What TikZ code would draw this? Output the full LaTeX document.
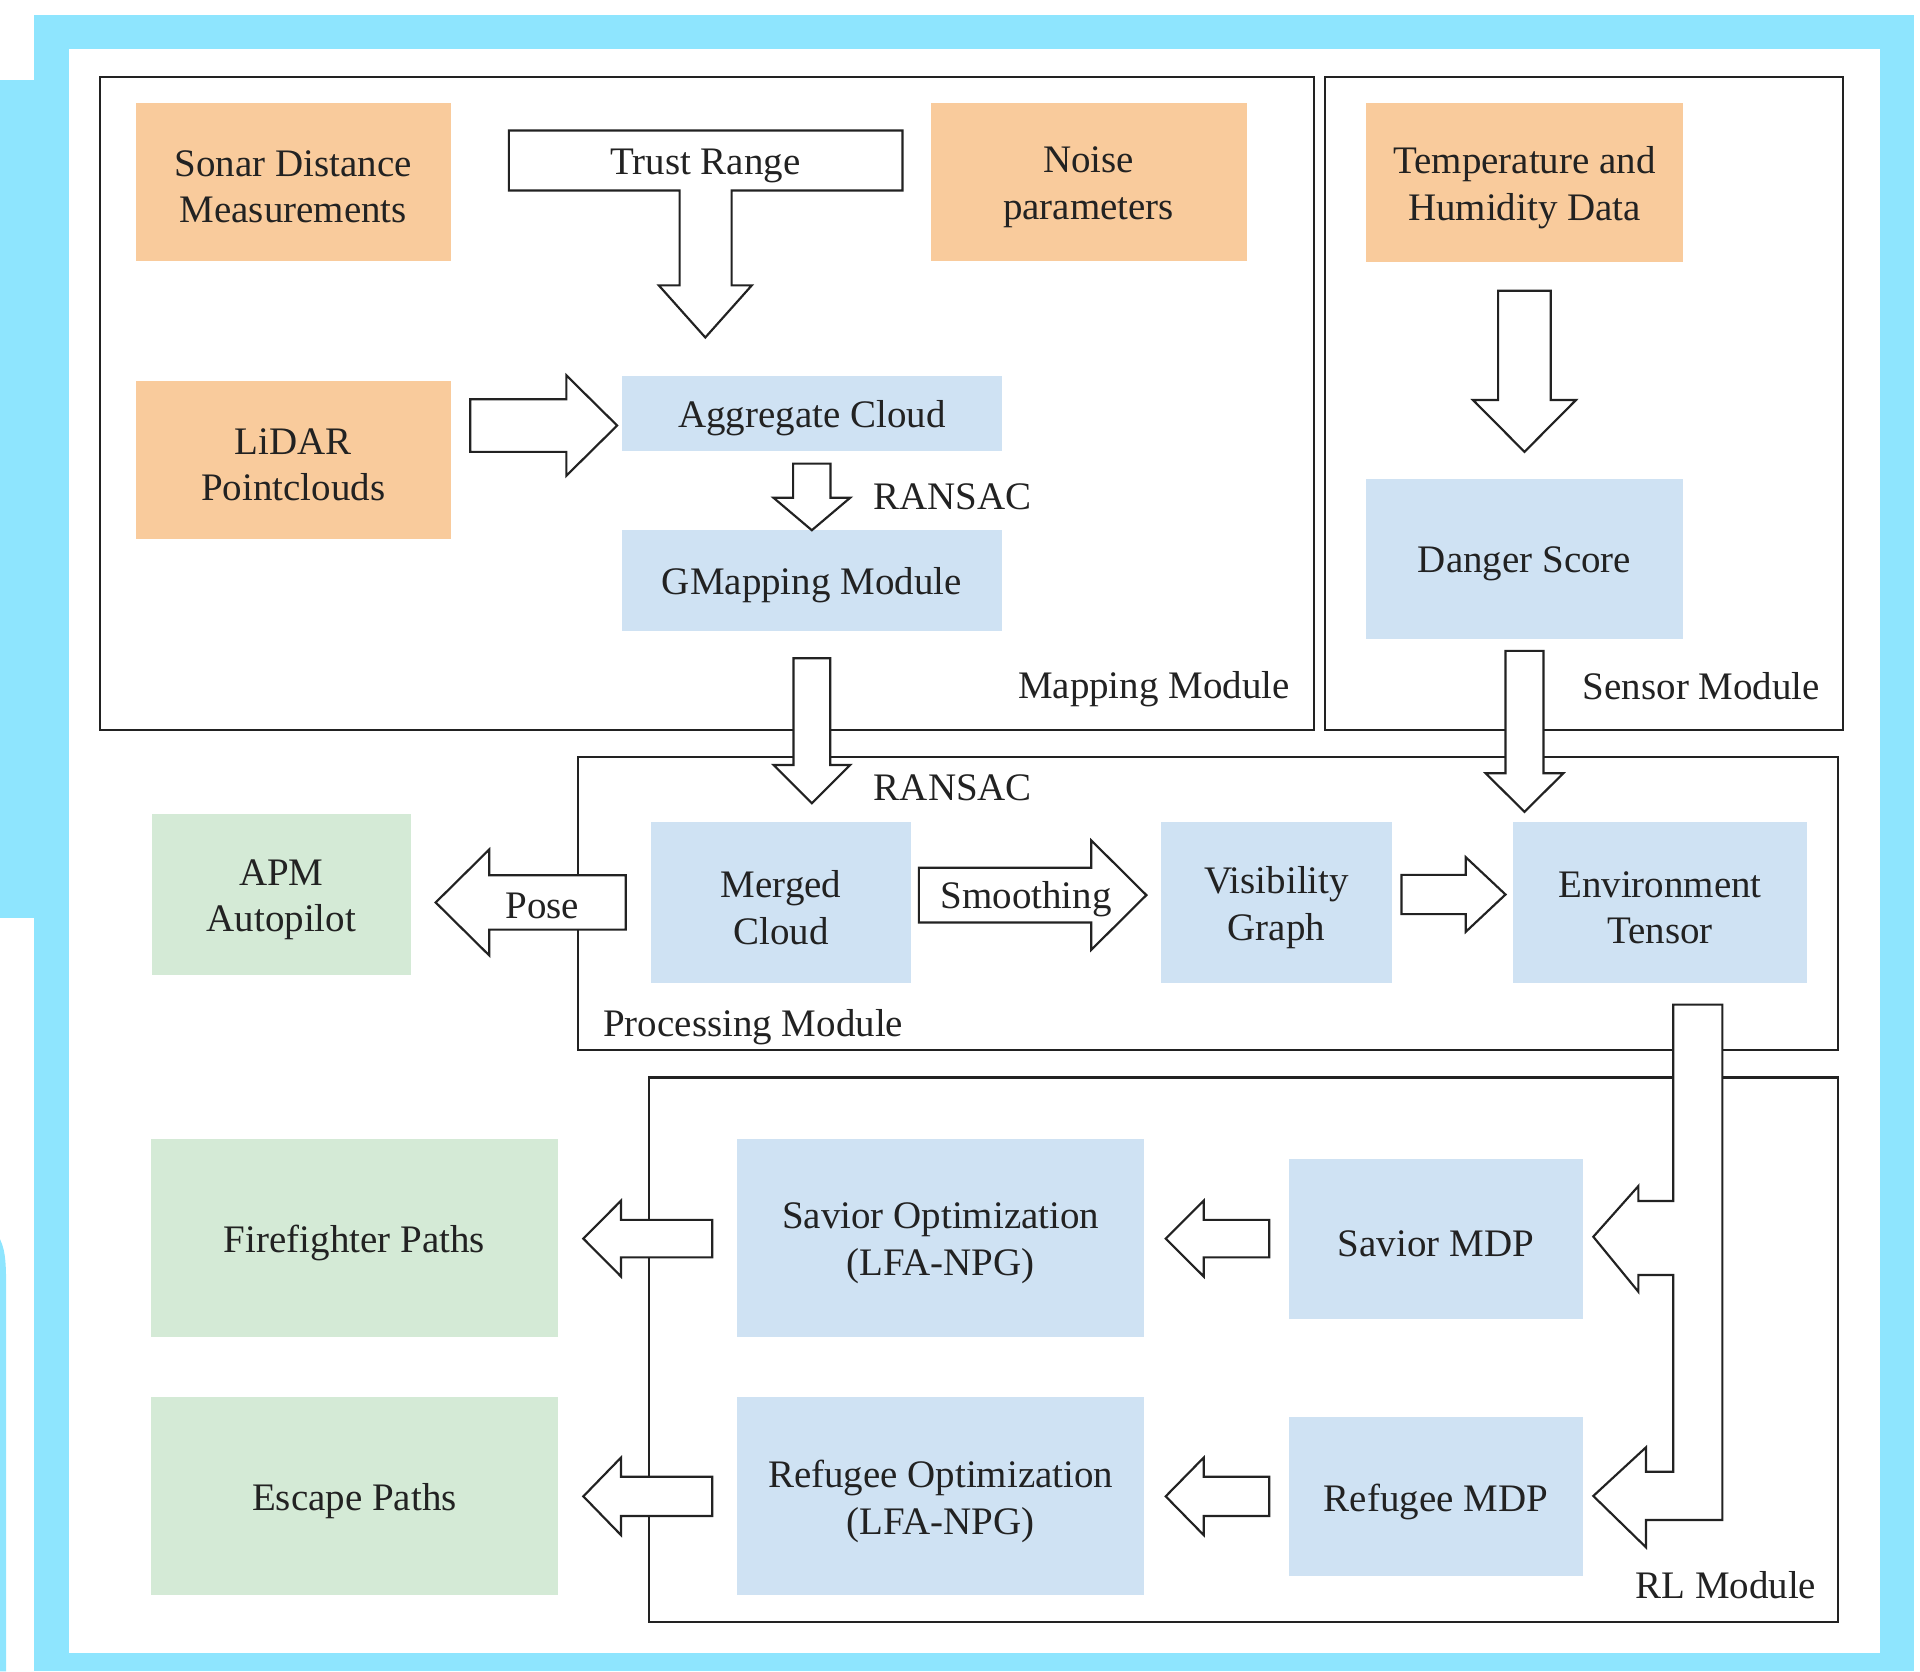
\documentclass[tikz,border=0pt]{standalone}
\usepackage{fontspec}
\setmainfont{Liberation Serif}
\usepackage{xcolor}
\usepackage{tikz}

\definecolor{framecyan}{HTML}{8EE5FE}
\definecolor{boxorange}{HTML}{F9CB9C}
\definecolor{boxblue}{HTML}{CFE2F3}
\definecolor{boxgreen}{HTML}{D4EAD6}
\definecolor{txt}{HTML}{222222}
\definecolor{frameline}{HTML}{222222}

\newcommand{\diagfont}{\fontsize{9.05}{10.8}\selectfont}
% horizontal block arrow: tail x, head base x, tip x, centre y, half shaft, half head
\newcommand{\harrow}[6]{%
  \draw[blockarrow] (#1,#4-#5) -- (#2,#4-#5) -- (#2,#4-#6) -- (#3,#4)
    -- (#2,#4+#6) -- (#2,#4+#5) -- (#1,#4+#5) -- cycle;}
% vertical block arrow: centre x, tail y, head base y, tip y, half shaft, half head
\newcommand{\varrow}[6]{%
  \draw[blockarrow] (#1-#5,#2) -- (#1-#5,#3) -- (#1-#6,#3) -- (#1,#4)
    -- (#1+#6,#3) -- (#1+#5,#3) -- (#1+#5,#2) -- cycle;}

\tikzset{
  boxtext/.style={font=\diagfont, text=txt, align=center, inner sep=0pt, yshift=-1.2pt},
  boxsize/.style 2 args={minimum width=#1, minimum height=#2},
  obox/.style={inner sep=0pt, fill=boxorange},
  bbox/.style={inner sep=0pt, fill=boxblue},
  gbox/.style={inner sep=0pt, fill=boxgreen},
  module/.style={draw=frameline, line width=0.5pt},
  modlabel/.style={font=\diagfont, text=txt, inner sep=0pt},
  blockarrow/.style={draw=frameline, fill=white, line width=0.5pt, line join=miter},
}

\begin{document}
\begin{tikzpicture}[x=0.01cm, y=-0.01cm]
    \useasboundingbox (0,0) rectangle (1568,1365);

    % Cyan frame round the page
    \fill[framecyan] (28,12) rectangle (1563,1365);
    \fill[white] (56,40) rectangle (1535,1350);
    \fill[framecyan] (0,65) rectangle (28,750);
    \fill[framecyan] (0,1012) .. controls (5,1022) and (5,1035) .. (5,1055) -- (5,1365) -- (0,1365) -- cycle;

    % Module frames
    \draw[module] (82,63) rectangle (1073,596);
    \draw[module] (1082,63) rectangle (1505,596);
    \draw[module] (472.3,618) rectangle (1501.3,857.3);
    \draw[module] (530.3,880) rectangle (1501.3,1324.4);
    \node[modlabel, anchor=east] (maplbl) at (1054,563) {Mapping Module};
    \node[modlabel, anchor=east] (senslbl) at (1487,560.5) {Sensor Module};
    \node[modlabel, anchor=west] (proclbl) at (492,839) {Processing Module};
    \node[modlabel, anchor=east] (rllbl) at (1484,1294.5) {RL Module};

    % Inputs
    \node[obox, boxsize={2.57cm}{1.29cm}, label={[boxtext]center:{Sonar Distance\\Measurements}}] (sonar) at (239.5,148.5) {};
    \node[obox, boxsize={2.58cm}{1.29cm}, label={[boxtext]center:{Noise\\parameters}}] (noise) at (889,148.5) {};
    \node[obox, boxsize={2.57cm}{1.29cm}, label={[boxtext]center:{LiDAR\\Pointclouds}}] (lidar) at (239.5,375.5) {};
    \node[obox, boxsize={2.58cm}{1.30cm}, label={[boxtext]center:{Temperature and\\Humidity Data}}] (temp) at (1245,149) {};

    % Mapping and sensor stages
    \node[bbox, boxsize={3.10cm}{0.61cm}, label={[boxtext]center:Aggregate Cloud}] (agg) at (663,337.5) {};
    \node[bbox, boxsize={3.10cm}{0.82cm}, label={[boxtext]center:GMapping Module}] (gmap) at (663,474) {};
    \node[bbox, boxsize={2.59cm}{1.31cm}, label={[boxtext]center:Danger Score}] (danger) at (1245,456.5) {};

    % Processing stages
    \node[bbox, boxsize={2.12cm}{1.31cm}, label={[boxtext]center:{Merged\\Cloud}}] (merged) at (638,737) {};
    \node[bbox, boxsize={1.89cm}{1.31cm}, label={[boxtext]center:{Visibility\\Graph}}] (visgraph) at (1042.5,737) {};
    \node[bbox, boxsize={2.40cm}{1.31cm}, label={[boxtext]center:{Environment\\Tensor}}] (envtensor) at (1355.7,737) {};
    \node[gbox, boxsize={2.12cm}{1.31cm}, label={[boxtext]center:{APM\\Autopilot}}] (apm) at (229.8,730.5) {};

    % RL stages
    \node[bbox, boxsize={3.32cm}{1.61cm}, label={[boxtext]center:{Savior Optimization\\(LFA-NPG)}}] (savopt) at (768.2,1011) {};
    \node[bbox, boxsize={3.32cm}{1.62cm}, label={[boxtext]center:{Refugee Optimization\\(LFA-NPG)}}] (refopt) at (768.2,1221.8) {};
    \node[bbox, boxsize={2.40cm}{1.31cm}, label={[boxtext]center:Savior MDP}] (savmdp) at (1172.7,1011.7) {};
    \node[bbox, boxsize={2.40cm}{1.30cm}, label={[boxtext]center:Refugee MDP}] (refmdp) at (1172.7,1222) {};
    \node[gbox, boxsize={3.32cm}{1.62cm}, label={[boxtext]center:Firefighter Paths}] (fire) at (289.4,1011.2) {};
    \node[gbox, boxsize={3.32cm}{1.62cm}, label={[boxtext]center:Escape Paths}] (escape) at (289.4,1221.6) {};

    % Trust range feeding the aggregate cloud
    \draw[blockarrow] (415.6,106.5) -- (737,106.5) -- (737,155.5) -- (597.5,155.5) -- (597.5,233)
        -- (614,233) -- (576,275.6) -- (538,233) -- (555,233) -- (555,155.5) -- (415.6,155.5) -- cycle;
    \node[modlabel] (trust) at (576,135.5) {Trust Range};

    % Block arrows
    \harrow{384}{462.5}{504}{347.5}{21.5}{41}
    \varrow{663}{378.6}{406.5}{433}{15.3}{31.3}
    \node[modlabel, anchor=west] (ransacA) at (712.5,406) {RANSAC};
    \varrow{1245}{237.4}{326.7}{369}{21.5}{42}
    \varrow{663}{537.6}{624.7}{656}{15}{31.3}
    \node[modlabel, anchor=west] (ransacB) at (713,643.5) {RANSAC};
    \varrow{1245}{531.5}{631.5}{663}{15.5}{31.7}

    \harrow{511}{399.6}{355.8}{737}{22.2}{43.3}
    \node[modlabel] (pose) at (443,739.5) {Pose};
    \harrow{750.4}{891.2}{936.2}{731}{22.3}{44.7}
    \node[modlabel] (smooth) at (838,734.5) {Smoothing};
    \harrow{1144.6}{1197}{1229.5}{730.5}{16}{30.5}

    \harrow{581.7}{507.1}{476.4}{1011.5}{15.3}{30.9}
    \harrow{581.7}{507.1}{476.4}{1222}{16}{31.6}
    \harrow{1036.6}{983}{952}{1011.5}{15.3}{30.9}
    \harrow{1036.6}{983}{952}{1222}{16}{31.6}

    % Environment tensor split to both MDPs
    \draw[blockarrow] (1366.5,820.4) -- (1406.6,820.4) -- (1406.6,1241.3) -- (1344.2,1241.3)
        -- (1344.2,1263.6) -- (1301.2,1221.7) -- (1344.2,1182) -- (1344.2,1201.9) -- (1366.5,1201.9)
        -- (1366.5,1041.2) -- (1338,1041.2) -- (1338,1054.9) -- (1301.2,1010) -- (1338,968.6)
        -- (1338,980.8) -- (1366.5,980.8) -- cycle;
\end{tikzpicture}
\end{document}
